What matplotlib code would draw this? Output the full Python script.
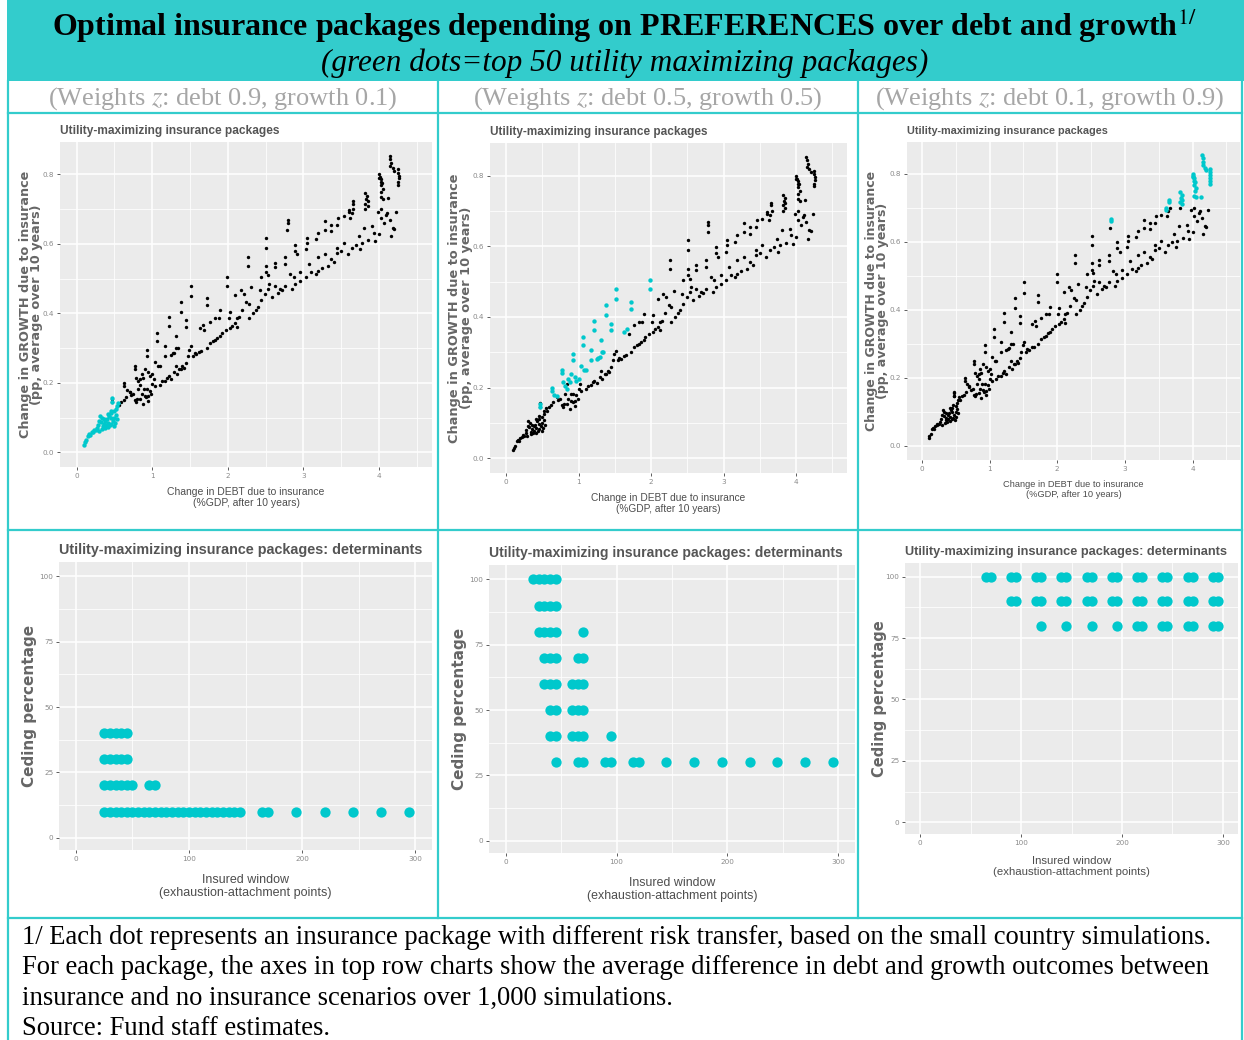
import matplotlib
matplotlib.use("Agg")
import matplotlib.pyplot as plt
from matplotlib.lines import Line2D
from matplotlib.patches import Rectangle
from matplotlib.ticker import MultipleLocator, FormatStrFormatter

# ---- data ----
weights_debt = [0.9, 0.5, 0.1]
weights_growth = [0.1, 0.5, 0.9]

# packages near the origin (top 50 for debt-heavy weights)
low_debt = [0.10, 0.11, 0.13, 0.15, 0.16, 0.18, 0.20, 0.22, 0.23, 0.25,
            0.27, 0.28, 0.29, 0.30, 0.31, 0.32, 0.33, 0.34, 0.35, 0.36,
            0.36, 0.37, 0.38, 0.39, 0.40, 0.41, 0.42, 0.42, 0.43, 0.44,
            0.45, 0.45, 0.46, 0.46, 0.47, 0.47, 0.48, 0.49, 0.50, 0.50,
            0.51, 0.52, 0.52, 0.53, 0.54, 0.55]
low_growth = [0.022, 0.030, 0.035, 0.048, 0.052, 0.050, 0.058, 0.060, 0.065, 0.064,
              0.070, 0.080, 0.062, 0.090, 0.104, 0.088, 0.100, 0.068, 0.075, 0.082,
              0.095, 0.070, 0.090, 0.078, 0.095, 0.072, 0.085, 0.110, 0.105, 0.078,
              0.112, 0.098, 0.082, 0.120, 0.157, 0.145, 0.090, 0.076, 0.118, 0.100,
              0.085, 0.108, 0.125, 0.133, 0.095, 0.143]

# steep packages (top 50 for balanced weights)
steep_debt = [0.47, 0.47, 0.63, 0.63, 0.66, 0.70, 0.77, 0.77, 0.78, 0.81,
              0.84, 0.86, 0.88, 0.90, 0.93, 0.93, 0.95, 0.97, 1.00, 1.03,
              1.06, 1.06, 1.08, 1.10, 1.17, 1.17, 1.22, 1.22, 1.25, 1.27,
              1.29, 1.31, 1.32, 1.34, 1.38, 1.38, 1.45, 1.45, 1.51, 1.51,
              1.63, 1.67, 1.72, 1.72, 1.99, 1.99]
steep_growth = [0.154, 0.145, 0.200, 0.190, 0.180, 0.175, 0.249, 0.240, 0.215, 0.205,
                0.195, 0.225, 0.215, 0.239, 0.296, 0.277, 0.230, 0.220, 0.225, 0.260,
                0.343, 0.320, 0.249, 0.250, 0.306, 0.277, 0.390, 0.364, 0.280, 0.285,
                0.287, 0.334, 0.300, 0.300, 0.433, 0.405, 0.381, 0.362, 0.480, 0.450,
                0.357, 0.366, 0.443, 0.424, 0.504, 0.480]

# top-right packages (top 50 for growth-heavy weights)
top_debt = [2.79, 2.79, 3.60, 3.60, 3.65, 3.65, 3.82, 3.84, 3.83, 3.85,
            3.82, 3.85, 4.00, 4.01, 4.02, 4.04, 4.02, 4.05, 4.03, 4.02,
            4.05, 4.12, 4.14, 4.15, 4.16, 4.15, 4.18, 4.20, 4.25, 4.25,
            4.26, 4.26, 4.25, 4.25, 4.02, 4.00]
top_growth = [0.668, 0.660, 0.698, 0.692, 0.722, 0.716, 0.746, 0.738, 0.728, 0.722,
              0.716, 0.710, 0.800, 0.792, 0.786, 0.776, 0.768, 0.758, 0.748, 0.735,
              0.730, 0.732, 0.854, 0.845, 0.834, 0.825, 0.818, 0.810, 0.815, 0.805,
              0.796, 0.788, 0.778, 0.770, 0.778, 0.790]

# remaining packages
other_debt = [0.56, 0.59, 0.62, 0.65, 0.70, 0.72, 0.75, 0.77, 0.79, 0.80,
              0.81, 0.84, 0.84, 0.86, 0.88, 0.89, 0.90, 0.92, 0.93, 0.95,
              0.95, 0.97, 0.99, 1.00, 1.02, 1.04, 1.10, 1.13, 1.17, 1.20,
              1.22, 1.25, 1.29, 1.31, 1.33, 1.36, 1.38, 1.40, 1.42, 1.45,
              1.47, 1.49, 1.51, 1.54, 1.56, 1.58, 1.62, 1.65, 1.69, 1.72,
              1.76, 1.76, 1.80, 1.83, 1.83, 1.86, 1.88, 1.90, 1.90, 1.92,
              1.97, 2.01, 2.03, 2.03, 2.06, 2.10, 2.10, 2.12, 2.12, 2.15,
              2.17, 2.19, 2.21, 2.24, 2.26, 2.26, 2.28, 2.28, 2.31, 2.33,
              2.37, 2.40, 2.42, 2.44, 2.44, 2.49, 2.51, 2.51, 2.51, 2.51,
              2.53, 2.53, 2.55, 2.58, 2.62, 2.62, 2.62, 2.66, 2.69, 2.72,
              2.76, 2.76, 2.76, 2.78, 2.82, 2.85, 2.87, 2.89, 2.89, 2.89,
              2.92, 2.96, 2.96, 3.03, 3.03, 3.05, 3.05, 3.07, 3.10, 3.16,
              3.16, 3.19, 3.19, 3.19, 3.24, 3.28, 3.28, 3.28, 3.32, 3.37,
              3.37, 3.37, 3.40, 3.44, 3.44, 3.44, 3.46, 3.50, 3.53, 3.53,
              3.59, 3.62, 3.64, 3.64, 3.66, 3.70, 3.73, 3.75, 3.77, 3.80,
              3.82, 3.86, 3.91, 3.93, 3.95, 3.98, 4.00, 4.02, 4.02, 4.07,
              4.09, 4.11, 4.14, 4.16, 4.18, 4.23, 4.20]
other_growth = [0.135, 0.145, 0.150, 0.159, 0.173, 0.165, 0.168, 0.150, 0.145, 0.153,
                0.182, 0.154, 0.210, 0.168, 0.140, 0.181, 0.163, 0.158, 0.182, 0.149,
                0.162, 0.178, 0.168, 0.196, 0.211, 0.190, 0.195, 0.205, 0.206, 0.215,
                0.220, 0.212, 0.230, 0.248, 0.225, 0.239, 0.239, 0.248, 0.244, 0.258,
                0.277, 0.296, 0.305, 0.277, 0.285, 0.282, 0.290, 0.291, 0.353, 0.300,
                0.315, 0.376, 0.320, 0.324, 0.386, 0.330, 0.386, 0.334, 0.409, 0.343,
                0.353, 0.386, 0.357, 0.405, 0.365, 0.372, 0.452, 0.386, 0.362, 0.390,
                0.466, 0.410, 0.457, 0.433, 0.561, 0.537, 0.428, 0.386, 0.475, 0.400,
                0.410, 0.419, 0.466, 0.438, 0.504, 0.457, 0.617, 0.589, 0.537, 0.518,
                0.471, 0.509, 0.485, 0.447, 0.480, 0.546, 0.532, 0.460, 0.471, 0.468,
                0.480, 0.561, 0.542, 0.641, 0.513, 0.471, 0.504, 0.485, 0.598, 0.580,
                0.570, 0.518, 0.494, 0.504, 0.584, 0.617, 0.603, 0.542, 0.520, 0.513,
                0.613, 0.561, 0.523, 0.631, 0.530, 0.665, 0.641, 0.570, 0.537, 0.556,
                0.655, 0.636, 0.548, 0.589, 0.575, 0.655, 0.674, 0.580, 0.603, 0.679,
                0.570, 0.675, 0.589, 0.690, 0.700, 0.598, 0.622, 0.584, 0.603, 0.646,
                0.700, 0.610, 0.650, 0.631, 0.608, 0.693, 0.627, 0.674, 0.700, 0.660,
                0.683, 0.690, 0.669, 0.622, 0.646, 0.693, 0.644]

# determinants of the top 50 packages (insured window, ceding percentage)
det1_window = [25, 30, 35, 40, 45, 50, 55, 60, 65, 70, 75, 80, 85, 90, 95, 100, 105,
               110, 115, 120, 125, 130, 135, 140, 145, 165, 170, 195, 220, 245, 270, 295,
               25, 30, 35, 40, 45, 50, 65, 70,
               25, 30, 35, 40, 45,
               25, 30, 35, 40, 45]
det1_ceding = [10, 10, 10, 10, 10, 10, 10, 10, 10, 10, 10, 10, 10, 10, 10, 10, 10,
               10, 10, 10, 10, 10, 10, 10, 10, 10, 10, 10, 10, 10, 10, 10,
               20, 20, 20, 20, 20, 20, 20, 20,
               30, 30, 30, 30, 30,
               40, 40, 40, 40, 40]
det2_window = [25, 30, 35, 40, 45,
               30, 35, 40, 45,
               30, 35, 40, 45, 70,
               35, 40, 45, 65, 70,
               35, 40, 45, 60, 65, 70,
               40, 45, 60, 65, 70,
               40, 45, 60, 65, 70, 95,
               45, 65, 70, 90, 95, 115, 120, 145, 170, 195, 220, 245, 270, 295]
det2_ceding = [100, 100, 100, 100, 100,
               90, 90, 90, 90,
               80, 80, 80, 80, 80,
               70, 70, 70, 70, 70,
               60, 60, 60, 60, 60, 60,
               50, 50, 50, 50, 50,
               40, 40, 40, 40, 40, 40,
               30, 30, 30, 30, 30, 30, 30, 30, 30, 30, 30, 30, 30, 30]
det3_window = [65, 70, 90, 95, 115, 120, 140, 145, 165, 170,
               190, 195, 215, 220, 240, 245, 265, 270, 290, 295,
               90, 95, 115, 120, 140, 145, 165, 170, 190, 195,
               215, 220, 240, 245, 265, 270, 290, 295,
               120, 145, 170, 195, 215, 220, 240, 245, 265, 270, 290, 295]
det3_ceding = [100, 100, 100, 100, 100, 100, 100, 100, 100, 100,
               100, 100, 100, 100, 100, 100, 100, 100, 100, 100,
               90, 90, 90, 90, 90, 90, 90, 90, 90, 90,
               90, 90, 90, 90, 90, 90, 90, 90,
               80, 80, 80, 80, 80, 80, 80, 80, 80, 80, 80, 80]

footer_lines = [
    "1/ Each dot represents an insurance package with different risk transfer, based on the small country simulations.",
    "For each package, the axes in top row charts show the average difference in debt and growth outcomes between",
    "insurance and no insurance scenarios over 1,000 simulations.",
    "Source: Fund staff estimates.",
]

# ---- styling ----
W, H = 1244, 1040
TEAL = "#33CCCC"
CYAN = "#00C8CC"
PANEL_BG = "#EBEBEB"
LABEL_GREY = "#4D4D4D"
SERIF = ["Liberation Serif", "DejaVu Serif"]
SANS = ["Liberation Sans", "DejaVu Sans"]
plt.rcParams["mathtext.fontset"] = "stix"


def rect(x0, y0, x1, y1):
    return [x0 / W, 1 - y1 / H, (x1 - x0) / W, (y1 - y0) / H]


def fx(x):
    return x / W


def fy(y):
    return 1 - y / H


def style_axes(ax, xlim, ylim, xmaj, xmin, ymaj, ymin, yfmt):
    ax.set_facecolor(PANEL_BG)
    ax.set_xlim(*xlim)
    ax.set_ylim(*ylim)
    ax.xaxis.set_major_locator(MultipleLocator(xmaj))
    ax.xaxis.set_minor_locator(MultipleLocator(xmin))
    ax.yaxis.set_major_locator(MultipleLocator(ymaj))
    ax.yaxis.set_minor_locator(MultipleLocator(ymin))
    ax.yaxis.set_major_formatter(FormatStrFormatter(yfmt))
    ax.xaxis.set_major_formatter(FormatStrFormatter("%d"))
    ax.grid(which="major", color="white", linewidth=1.1)
    ax.grid(which="minor", color="white", linewidth=0.55)
    ax.set_axisbelow(True)
    for s in ax.spines.values():
        s.set_visible(False)
    ax.tick_params(which="major", length=2.5, width=0.6, color="#444444",
                   labelsize=5.2, labelcolor="#8A8A8A", pad=1.5)
    ax.tick_params(which="minor", length=0)


fig = plt.figure(figsize=(W / 100, H / 100), dpi=100)
fig.patch.set_facecolor("white")

# header band
fig.add_artist(Rectangle((fx(7), fy(81)), fx(1244) - fx(7), fy(0) - fy(81),
                         transform=fig.transFigure, facecolor=TEAL, edgecolor="none", zorder=0))
fig.text(fx(624), fy(26), r"Optimal insurance packages depending on PREFERENCES over debt and growth$^{\mathrm{1/}}$",
         ha="center", va="center", fontsize=23, fontweight="bold", family=SERIF, color="black")
fig.text(fx(625), fy(63), "(green dots=top 50 utility maximizing packages)",
         ha="center", va="center", fontsize=22.5, fontstyle="italic", family=SERIF, color="black")

cell_x = [(8, 438), (438, 858), (858, 1242)]
for (x0, x1), wd, wg in zip(cell_x, weights_debt, weights_growth):
    fig.text(fx((x0 + x1) / 2), fy(99), f"(Weights $z$: debt {wd}, growth {wg})",
             ha="center", va="center", fontsize=19, family=SERIF, color="#A6A6A6")

# ---- top row: debt vs growth scatter ----
top_rects = [(60, 142, 432, 467), (490, 143, 847, 473), (907, 142, 1240, 460)]
top_title_size = [8.6, 8.5, 7.8]
top_xlab_size = [7.5, 7.3, 6.7]
top_ylab_size = [9.2, 9.3, 9.0]
top_ylab_x = [-0.045, -0.049, -0.053]
top_xlab_y = [-0.062, -0.060, -0.063]
groups = [(low_debt, low_growth), (steep_debt, steep_growth), (top_debt, top_growth)]
for i, r in enumerate(top_rects):
    ax = fig.add_axes(rect(*r))
    style_axes(ax, (-0.22, 4.7), (-0.042, 0.893), 1, 0.5, 0.2, 0.1, "%.1f")
    ax.scatter(other_debt, other_growth, s=6, color="black", linewidths=0, zorder=3)
    for j, (gd, gg) in enumerate(groups):
        if j != i:
            ax.scatter(gd, gg, s=6, color="black", linewidths=0, zorder=3)
    hd, hg = groups[i]
    ax.scatter(hd, hg, s=10, color=CYAN, linewidths=0, zorder=4)
    ax.set_title("Utility-maximizing insurance packages", loc="left", fontsize=top_title_size[i],
                 fontweight="bold", color="#555555", family=SANS, pad=6)
    ax.set_xlabel("Change in DEBT due to insurance\n(%GDP, after 10 years)", fontsize=top_xlab_size[i],
                  color=LABEL_GREY, family=SANS, linespacing=1.15)
    ax.xaxis.set_label_coords(0.5, top_xlab_y[i])
    ax.set_ylabel("Change in GROWTH due to insurance\n(pp, average over 10 years)", fontsize=top_ylab_size[i],
                  fontweight="bold", color="#666666", family="DejaVu Sans", linespacing=0.85)
    ax.yaxis.set_label_coords(top_ylab_x[i], 0.5)

# ---- bottom row: determinants ----
bot_rects = [(59, 562, 432, 850), (489, 565, 855, 853), (905, 563, 1238, 834)]
bot_title_size = [10.4, 10.1, 9.2]
bot_xlab_size = [9.0, 8.9, 8.2]
bot_ylab_size = [11.0, 11.0, 10.5]
bot_ylab_x = [-0.058, -0.059, -0.054]
bot_xlab_y = [-0.083, -0.083, -0.081]
dets = [(det1_window, det1_ceding), (det2_window, det2_ceding), (det3_window, det3_ceding)]
for i, r in enumerate(bot_rects):
    ax = fig.add_axes(rect(*r))
    style_axes(ax, (-15, 315), (-4.7, 105.5), 100, 50, 25, 12.5, "%d")
    wx, cy = dets[i]
    ax.scatter(wx, cy, s=55, color=CYAN, linewidths=0, zorder=3)
    ax.set_title("Utility-maximizing insurance packages: determinants", loc="left",
                 fontsize=bot_title_size[i], fontweight="bold", color="#555555", family=SANS, pad=6)
    ax.set_xlabel("Insured window\n(exhaustion-attachment points)", fontsize=bot_xlab_size[i],
                  color=LABEL_GREY, family=SANS, linespacing=1.15)
    ax.xaxis.set_label_coords(0.5, bot_xlab_y[i])
    ax.set_ylabel("Ceding percentage", fontsize=bot_ylab_size[i], fontweight="bold", color="#666666",
                  family="DejaVu Sans")
    ax.yaxis.set_label_coords(bot_ylab_x[i], 0.5)

# ---- footer ----
for k, line in enumerate(footer_lines):
    fig.text(fx(22), fy(937 + 30.5 * k), line, ha="left", va="center", fontsize=19.2,
             family=SERIF, color="black")

# ---- table borders ----
lw = 1.6
border = [((8, 8), (81, 1040)), ((1242, 1242), (81, 1040)),
          ((438, 438), (81, 918)), ((858, 858), (81, 918)),
          ((8, 1242), (113, 113)), ((8, 1242), (530, 530)), ((8, 1242), (918, 918))]
for xs, ys in border:
    fig.add_artist(Line2D([fx(xs[0]), fx(xs[1])], [fy(ys[0]), fy(ys[1])],
                          transform=fig.transFigure, color=TEAL, linewidth=lw, zorder=10))

fig.savefig("out.png", dpi=100)
